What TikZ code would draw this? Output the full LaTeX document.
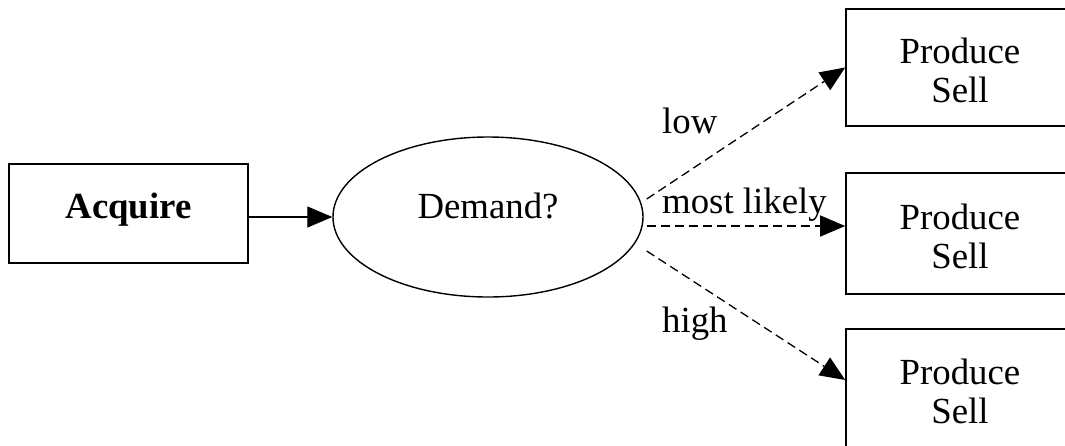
\documentclass[tikz,border=0pt]{standalone}
\usepackage{fontspec}
\setmainfont{Liberation Serif}
\usetikzlibrary{arrows.meta,shapes.geometric,calc}

\tikzset{
  every node/.style={font=\fontsize{36.8pt}{39pt}\selectfont, inner sep=0pt},
  box/.style={draw, rectangle, line width=1.6pt, align=center},
  outcome/.style={box, minimum width=228pt, text height=69pt, text depth=0pt},
  decision/.style={draw, ellipse, line width=1.4pt},
  flow/.style={line width=1.3pt, -{Triangle[length=25pt,width=21pt]}},
  branch/.style={flow, dash pattern=on 9pt off 5pt},
  tag/.style={anchor=base west}
}

\begin{document}
\begin{tikzpicture}[x=1pt, y=-1pt]
  \useasboundingbox (0,0) rectangle (1065,445);
  \clip (0,0) rectangle (1065,445);

  % start and decision
  \node[box, minimum width=239pt, minimum height=99pt, font=\fontsize{36.8pt}{39pt}\selectfont\bfseries, text depth=16pt]
    (acq) at (128.5,213.5) {Acquire};
  \node[decision, minimum width=310pt, minimum height=160pt, text depth=22pt]
    (dem) at (488,217) {Demand?};

  % outcomes
  \node[outcome, minimum height=117pt] (p1) at (960,67.5) {Produce\\Sell};
  \node[outcome, minimum height=121pt] (p2) at (960,233.5) {Produce\\Sell};
  \node[outcome, minimum height=120pt] (p3) at (960,389) {Produce\\Sell};

  % connectors
  \draw[flow] (acq.east |- dem.west) -- (dem.west);
  \draw[branch] ($(dem.east)+(3,-18)$) -- (p1.west);
  \draw[branch] ($(dem.east)+(3,9)$) -- ($(p2.west)+(0,-7.5)$);
  \draw[branch] ($(dem.east)+(3,34)$) -- ($(p3.west)+(0,-9)$);

  % branch labels
  \node[tag] (lLow) at (662,133) {low};
  \node[tag] (lMid) at (662,213) {most likely};
  \node[tag] (lHigh) at (662,332) {high};
\end{tikzpicture}
\end{document}
